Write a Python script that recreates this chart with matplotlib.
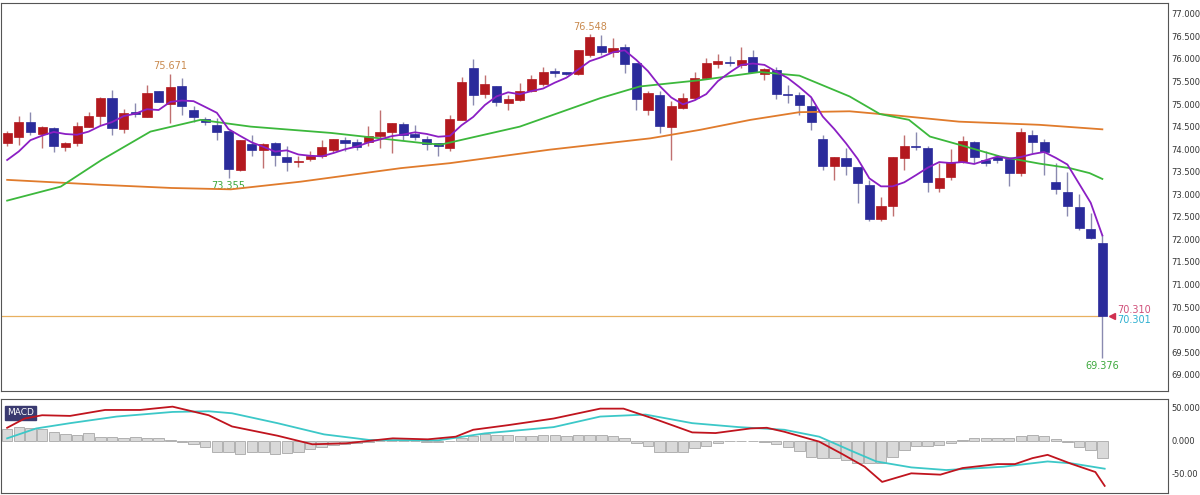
import matplotlib
matplotlib.use("Agg")
import matplotlib.pyplot as plt
import numpy as np
import pandas as pd

opens = [74.14,74.27,74.60,74.34,74.47,74.04,74.13,74.50,74.74,75.13,74.44,74.83,74.71,75.30,75.00,75.39,74.87,74.67,74.54,74.41,
         73.54,74.11,73.99,74.13,73.82,73.72,73.79,73.84,73.99,74.20,74.17,74.15,74.30,74.38,74.56,74.33,74.22,74.13,74.02,74.64,
         75.80,75.23,75.41,75.03,75.08,75.28,75.44,75.74,75.70,75.67,76.09,76.28,76.16,76.26,75.91,74.86,75.19,74.49,74.91,75.13,
         75.57,75.89,75.93,75.87,76.04,75.67,75.76,75.21,75.19,74.96,74.22,73.62,73.80,73.60,73.20,72.46,72.73,73.80,74.07,74.02,
         73.14,73.39,73.71,74.15,73.76,73.82,73.78,73.47,74.32,74.15,73.28,73.06,72.71,72.24,71.93]
closes = [74.36,74.60,74.39,74.50,74.06,74.13,74.52,74.74,75.13,74.48,74.80,74.78,75.24,75.04,75.38,74.95,74.71,74.60,74.39,73.57,
          74.20,73.99,74.11,73.86,73.71,73.74,73.85,74.05,74.22,74.13,74.04,74.30,74.39,74.58,74.32,74.28,74.12,74.08,74.67,75.50,
          75.20,75.44,75.04,75.12,75.29,75.55,75.72,75.69,75.67,76.19,76.48,76.16,76.24,75.89,75.12,75.24,74.52,74.96,75.13,75.57,
          75.92,75.96,75.91,75.98,75.72,75.77,75.22,75.19,74.98,74.61,73.62,73.82,73.62,73.25,72.46,72.73,73.82,74.07,74.04,73.28,
          73.36,73.71,74.19,73.82,73.70,73.76,73.48,74.37,74.15,73.93,73.11,72.74,72.25,72.03,70.31]
highs = [74.41,74.74,74.83,74.52,74.50,74.15,74.61,74.83,75.15,75.32,74.89,75.02,75.43,75.30,75.671,75.57,74.95,74.72,74.69,74.41,
         74.20,74.32,74.14,74.17,74.06,73.85,73.95,74.20,74.22,74.27,74.22,74.52,74.86,74.58,74.61,74.54,74.30,74.13,74.76,75.61,
         76.00,75.65,75.41,75.20,75.46,75.65,75.82,75.80,75.72,76.19,76.548,76.53,76.46,76.33,75.91,75.28,75.28,75.06,75.24,75.72,
         76.02,76.11,76.07,76.26,76.19,75.79,75.82,75.43,75.26,75.13,74.32,73.82,74.02,73.60,73.32,72.94,73.82,74.32,74.39,74.07,
         73.69,74.00,74.30,74.19,73.95,73.86,73.80,74.47,74.43,74.22,73.69,73.50,73.01,72.58,72.10]
lows = [74.07,74.10,74.32,74.03,73.93,73.97,74.07,74.50,74.54,74.32,74.36,74.72,74.71,75.04,74.58,74.76,74.61,74.54,74.20,73.355,
        73.51,73.84,73.59,73.63,73.51,73.60,73.73,73.80,73.93,73.95,73.98,74.06,74.02,73.91,74.21,74.21,73.99,73.84,73.95,74.64,
        74.98,75.13,74.96,74.86,75.06,75.26,75.40,75.61,75.64,75.64,76.05,76.09,76.05,75.69,74.86,74.76,74.36,73.76,74.88,75.10,
        75.55,75.80,75.84,75.80,75.70,75.54,75.11,75.02,74.76,74.43,73.54,73.32,73.43,72.80,72.40,72.40,72.51,73.54,73.98,73.06,
        73.06,73.32,73.69,73.69,73.62,73.70,73.19,73.40,73.91,73.43,73.01,72.51,72.20,72.01,69.376]
purple_head = [73.76, 73.95, 74.20, 74.30]

green_idx = [0,4.6,8.1,12.3,16.6,20.9,27.8,35.5,37.2,44.0,50.9,54.3,59.5,64.6,68.0,72.3,74.9,77.4,79.2,81.7,85.2,88.6,91.2,92.9,94]
green_val = [72.86,73.17,73.76,74.39,74.65,74.50,74.36,74.14,74.10,74.50,75.13,75.39,75.53,75.71,75.63,75.17,74.78,74.65,74.28,74.10,73.84,73.68,73.58,73.47,73.34]
orange_idx = [0,8.1,14.1,19.2,25.2,33.8,38.0,46.6,55.2,59.5,63.8,68.0,72.3,76.6,81.7,88.6,94]
orange_val = [73.32,73.21,73.14,73.11,73.28,73.58,73.69,73.99,74.24,74.43,74.65,74.82,74.84,74.74,74.61,74.54,74.44]

macd_idx = [0,1.5,3.0,5.4,8.4,11.4,14.2,17.3,19.3,23.2,26.2,29.1,33.1,36.1,38.5,40.0,43.0,46.9,50.9,52.9,55.8,58.8,60.8,63.8,65.2,66.7,69.7,71.7,73.6,75.1,77.6,80.1,82.0,85.0,86.5,88.0,89.3,91.4,93.4,94.2]
macd_val = [20,34,39,38,47,47,52,39,22,8,-5,-3.5,4,2.5,6.5,17,24,34,49,49,32,13,12,19,20,14,-1,-20,-39,-62,-49,-51,-41,-35,-35,-26,-21,-35,-47,-68]
sig_idx = [0,2.5,5.4,9.4,14.2,17.3,19.3,23.2,27.2,31.1,37.0,41.0,46.9,50.9,54.8,58.8,62.8,66.7,69.7,72.6,74.6,77.6,80.6,85.5,89.3,91.4,94.2]
sig_val = [4,19,27,37,44,45,42,27,10,1.5,1,11.5,21,37,40,27,21,17,6.5,-16,-31,-40,-44,-39,-31,-34,-42]
hist = [18,21,19,18,13,10,9,12,6.5,5.5,4,5.5,4,4,1.5,-1,-5,-9.5,-17,-17,-19,-17,-17,-19,-18,-16,-12,-8.5,-6,-5,
        -2.5,-1,0.5,0.5,0.5,0.5,-1,-1.5,0,4,8,10,9,9,8,8,9,9,8,9,9,9,8,5,-2.5,-7,-16,-17,-16,-11,
        -7,-2.5,-0.5,-0.5,-0.5,-1.5,-5,-8.5,-15,-24,-26,-26,-29,-33,-33,-33,-24,-14,-7,-7,-6,-2.5,1.5,4,4,4,4,8,9,8,
        2.5,-2,-9.5,-14,-26]

df = pd.DataFrame({"o": opens, "h": highs, "l": lows, "c": closes})
n = len(df)
x = np.arange(n)
ma5 = df["c"].rolling(5).mean().to_numpy()
ma5[:4] = purple_head

RED = "#b3191f"; BLUE = "#2b2b9b"
fig = plt.figure(figsize=(12, 4.95), dpi=100)
ax = fig.add_axes([0.001, 1 - 391/495, 0.972, 388/495])
ax2 = fig.add_axes([0.001, 1 - 493/495, 0.972, 94/495])

up = df["c"] >= df["o"]
cols = np.where(up, RED, BLUE)
wcols = np.where(up, "#c07070", "#8a8ab0")
ax.vlines(x, df["l"], df["h"], colors=wcols, lw=1.0, zorder=2)
bottoms = np.minimum(df["o"], df["c"])
heights = np.maximum(np.abs(df["c"] - df["o"]), 0.025)
ax.bar(x, heights, bottom=bottoms, width=0.78, color=cols, edgecolor=cols, lw=0.5, zorder=3)

ax.plot(orange_idx, orange_val, color="#e07b2c", lw=1.3, zorder=4)
ax.plot(green_idx, green_val, color="#3cb83c", lw=1.3, zorder=4)
ax.plot(x, ma5, color="#8b1fc4", lw=1.3, zorder=5)
ax.plot([-1, n - 1], [closes[-1], closes[-1]], color="#e8b060", lw=0.9, zorder=1)

ax.text(14, highs[14] + 0.06, "75.671", color="#c98a4e", fontsize=7, ha="center", va="bottom")
ax.text(50, highs[50] + 0.06, "76.548", color="#c98a4e", fontsize=7, ha="center", va="bottom")
ax.text(19, lows[19] - 0.06, "73.355", color="#3ca83c", fontsize=7, ha="center", va="top")
ax.text(94, lows[94] - 0.06, "69.376", color="#3ca83c", fontsize=7, ha="center", va="top")
ax.plot([94.85], [closes[-1]], marker="<", color="#d03050", ms=4, clip_on=False)
ax.text(95.3, closes[-1] + 0.02, "70.310", color="#d0507a", fontsize=7, va="bottom")
ax.text(95.3, closes[-1] + 0.02, "70.301", color="#30b0d0", fontsize=7, va="top")

ax.set_xlim(-0.51, 99.6)
ax.set_ylim(68.64, 77.24)
ticks = np.arange(69.0, 77.01, 0.5)
ax.set_yticks(ticks)
ax.set_yticklabels([f"{t:.3f}" for t in ticks])
ax.yaxis.tick_right()
ax.tick_params(axis="y", labelsize=6, colors="#333333", length=0, pad=3)
ax.set_xticks([])

ax2.bar(x, hist, width=0.9, color="#d9d9d9", edgecolor="#a8a8a8", lw=0.6, zorder=2)
ax2.plot(sig_idx, sig_val, color="#3cc8c8", lw=1.3, zorder=3)
ax2.plot(macd_idx, macd_val, color="#c0141e", lw=1.3, zorder=4)
ax2.set_xlim(-0.51, 99.6)
ax2.set_ylim(-78.8, 63.6)
ax2.set_yticks([50, 0, -50])
ax2.set_yticklabels(["50.000", "0.000", "-50.00"])
ax2.yaxis.tick_right()
ax2.tick_params(axis="y", labelsize=6, colors="#333333", length=0, pad=3)
ax2.set_xticks([])
ax2.text(0.005, 0.9, "MACD", transform=ax2.transAxes, fontsize=6.5, color="white", va="top",
         bbox=dict(boxstyle="square,pad=0.25", fc="#3a3a70", ec="#3a3a70"))

for a in (ax, ax2):
    for s in a.spines.values():
        s.set_color("#555555"); s.set_linewidth(0.8)

fig.savefig("out.png", dpi=100)
